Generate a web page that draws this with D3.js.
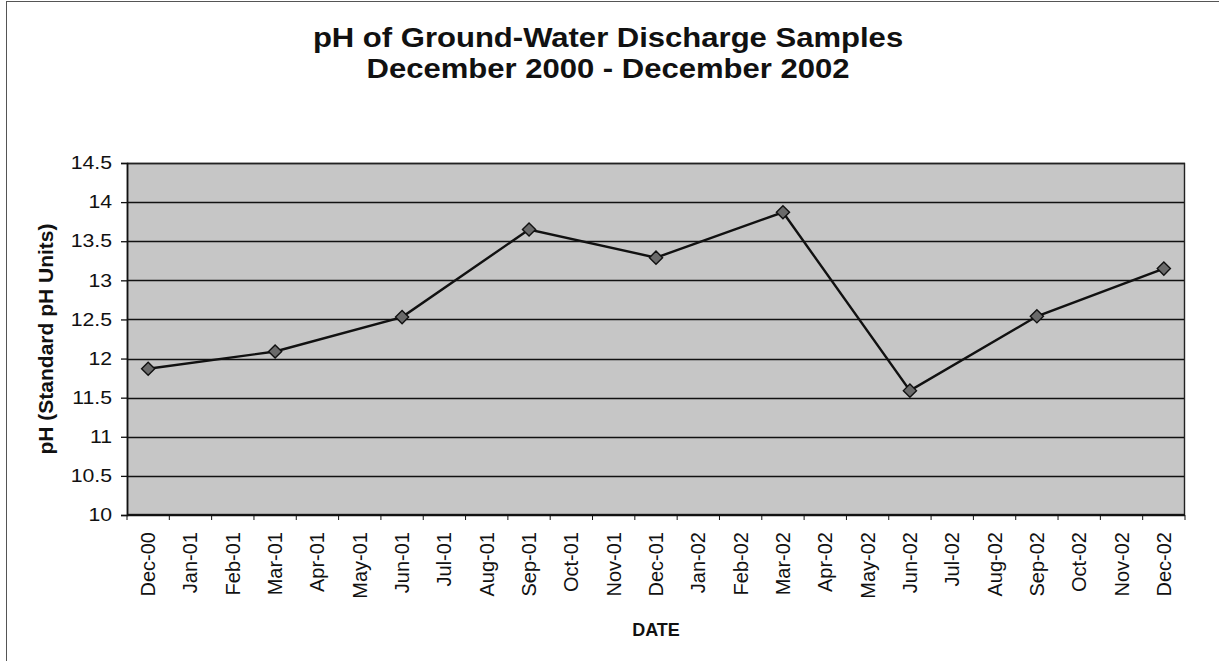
<!DOCTYPE html>
<html>
<head>
<meta charset="utf-8">
<script src="https://cdn.jsdelivr.net/npm/d3@7"></script>
<style>
  body { margin: 0; background: #fff; }
  svg { display: block; font-family: "Liberation Sans", Arial, sans-serif; }
</style>
</head>
<body>
<div id="chart"></div>
<script>
// month categories on the x axis
const months = ["Dec-00", "Jan-01", "Feb-01", "Mar-01", "Apr-01", "May-01", "Jun-01",
  "Jul-01", "Aug-01", "Sep-01", "Oct-01", "Nov-01", "Dec-01", "Jan-02", "Feb-02",
  "Mar-02", "Apr-02", "May-02", "Jun-02", "Jul-02", "Aug-02", "Sep-02", "Oct-02",
  "Nov-02", "Dec-02"];

// quarterly samples
const sampleMonths = ["Dec-00", "Mar-01", "Jun-01", "Sep-01", "Dec-01", "Mar-02", "Jun-02", "Sep-02", "Dec-02"];
const phValues = [11.87, 12.09, 12.53, 13.65, 13.29, 13.87, 11.59, 12.54, 13.15];

const yTicks = [10, 10.5, 11, 11.5, 12, 12.5, 13, 13.5, 14, 14.5];

const width = 1219, height = 661;
const margin = { top: 163, right: 34, bottom: 146, left: 127 };

const svg = d3.select("#chart")
  .append("svg")
  .attr("width", width)
  .attr("height", height);

// outer frame (runs off the right/bottom of the page)
svg.append("rect")
  .attr("x", 6.5).attr("y", 1.5)
  .attr("width", width + 20).attr("height", height + 20)
  .attr("fill", "none")
  .attr("stroke", "#555")
  .attr("stroke-width", 1);

const x = d3.scaleBand()
  .domain(months)
  .range([margin.left, width - margin.right])
  .padding(0);

const y = d3.scaleLinear()
  .domain([10, 14.5])
  .range([height - margin.bottom, margin.top]);

// plot background
svg.append("rect")
  .attr("x", margin.left)
  .attr("y", margin.top)
  .attr("width", width - margin.left - margin.right)
  .attr("height", height - margin.top - margin.bottom)
  .attr("fill", "#c6c6c6");

// gridlines
svg.append("g")
  .selectAll("line")
  .data(yTicks)
  .join("line")
  .attr("x1", margin.left)
  .attr("x2", width - margin.right)
  .attr("y1", d => Math.round(y(d)) + 0.5)
  .attr("y2", d => Math.round(y(d)) + 0.5)
  .attr("stroke", "#111")
  .attr("stroke-width", 1.4);

// plot border
svg.append("rect")
  .attr("x", margin.left + 0.5)
  .attr("y", margin.top + 0.5)
  .attr("width", width - margin.left - margin.right - 1)
  .attr("height", height - margin.top - margin.bottom - 1)
  .attr("fill", "none")
  .attr("stroke", "#222")
  .attr("stroke-width", 1.4);

// y axis
const yAxis = svg.append("g")
  .attr("transform", `translate(${margin.left},0)`)
  .call(d3.axisLeft(y).tickValues(yTicks).tickSize(6).tickPadding(0).tickFormat(d3.format("")));
yAxis.select(".domain").attr("stroke", "#111").attr("stroke-width", 1.6);
yAxis.selectAll(".tick line").attr("stroke", "#111").attr("stroke-width", 1.3);
yAxis.selectAll("text")
  .attr("x", 0)
  .attr("transform", "translate(-15,0) scale(1.18,1)")
  .attr("font-size", 18).attr("fill", "#111");

// x axis: ticks between categories
const xAxis = svg.append("g")
  .attr("transform", `translate(0,${height - margin.bottom})`);
xAxis.append("line")
  .attr("x1", margin.left).attr("x2", width - margin.right)
  .attr("stroke", "#111").attr("stroke-width", 1.6);
xAxis.selectAll(".tk")
  .data(months.concat(["end"]))
  .join("line")
  .attr("class", "tk")
  .attr("x1", (d, i) => i < months.length ? x(d) : x.range()[1])
  .attr("x2", (d, i) => i < months.length ? x(d) : x.range()[1])
  .attr("y1", 0).attr("y2", 5)
  .attr("stroke", "#111");
xAxis.selectAll("text")
  .data(months)
  .join("text")
  .attr("transform", d => `translate(${x(d) + x.bandwidth() / 2 + 7},17) rotate(-90)`)
  .attr("text-anchor", "end")
  .attr("font-size", 20)
  .attr("fill", "#111")
  .text(d => d);

// line + markers
const points = sampleMonths.map((m, i) => ({ m, v: phValues[i] }));
const cx = d => x(d.m) + x.bandwidth() / 2;

svg.append("path")
  .datum(points)
  .attr("fill", "none")
  .attr("stroke", "#111")
  .attr("stroke-width", 2.4)
  .attr("d", d3.line().x(cx).y(d => y(d.v)));

svg.append("g")
  .selectAll("path")
  .data(points)
  .join("path")
  .attr("transform", d => `translate(${cx(d)},${y(d.v)})`)
  .attr("d", d3.symbol(d3.symbolDiamond2, 110))
  .attr("fill", "#6a6a6a")
  .attr("stroke", "#111")
  .attr("stroke-width", 1.4);

// titles (source scan is a bit wide, so stretch horizontally)
const titleLines = ["pH of Ground-Water Discharge Samples", "December 2000 - December 2002"];
svg.append("g")
  .selectAll("text")
  .data(titleLines)
  .join("text")
  .attr("transform", (d, i) => `translate(608,${47 + i * 31}) scale(1.15,1)`)
  .attr("text-anchor", "middle")
  .attr("font-size", 27).attr("font-weight", "bold").attr("fill", "#111")
  .text(d => d);

svg.append("text")
  .attr("transform", `translate(53,${(margin.top + height - margin.bottom) / 2}) rotate(-90)`)
  .attr("text-anchor", "middle")
  .attr("font-size", 21).attr("font-weight", "bold").attr("fill", "#111")
  .text("pH (Standard pH Units)");

svg.append("text")
  .attr("x", 656).attr("y", 636)
  .attr("text-anchor", "middle")
  .attr("font-size", 18).attr("font-weight", "bold").attr("fill", "#111")
  .text("DATE");
</script>
</body>
</html>
